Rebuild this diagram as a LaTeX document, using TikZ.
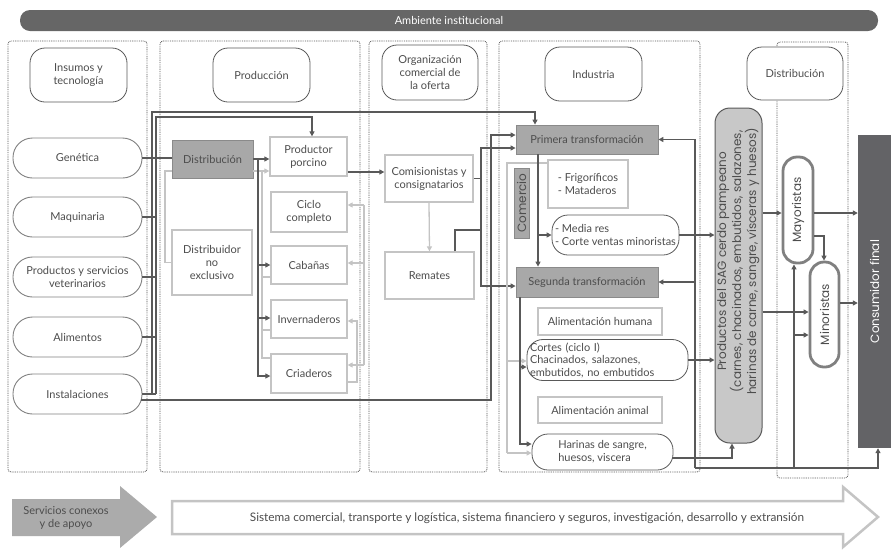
\documentclass[tikz,border=0pt]{standalone}
\usepackage{fontspec}
\setmainfont{Lato}
\newfontfamily\widefont{Poppins}
\usetikzlibrary{arrows.meta,calc}
\definecolor{txtgray}{HTML}{4D4D4D}
\definecolor{linedark}{HTML}{595959}
\definecolor{linelight}{HTML}{C4C4C4}
\definecolor{pillgray}{HTML}{808080}
\definecolor{boxgray}{HTML}{A8A8A8}
\definecolor{boxedge}{HTML}{8A8A8A}
\definecolor{saggray}{HTML}{C8C8C8}
\definecolor{consgray}{HTML}{636366}
\definecolor{bannergray}{HTML}{666666}
\definecolor{svcgray}{HTML}{ABABAB}
\tikzset{
	column/.style={draw=linedark, line width=0.8pt, dash pattern=on 0.9pt off 0.9pt, rounded corners=3pt},
	header/.style={draw=linedark, line width=0.8pt, fill=white, rounded corners=15pt, minimum width=97pt, minimum height=54pt, align=center},
	insumo/.style={draw=pillgray, line width=0.9pt, fill=white, rounded corners=19.5pt, minimum width=129pt, minimum height=40pt, align=center},
	graybox/.style={draw=boxedge, fill=boxgray, line width=0.8pt, align=center},
	lightbox/.style={draw=linelight, fill=white, line width=1.3pt, align=center},
	pill/.style={draw=linedark, line width=0.8pt, fill=white, rounded corners=16pt, align=left},
	thickpill/.style={draw=pillgray, line width=2.8pt, fill=white, rounded corners=14pt},
	widetext/.style={font=\widefont\fontsize{12}{12.5}\selectfont},
	dkline/.style={draw=linedark, line width=1.3pt},
	dkarrow/.style={dkline, -{Triangle[length=5pt,width=5pt]}},
	ltline/.style={draw=linelight, line width=1.3pt},
	ltarrow/.style={ltline, -{Triangle[length=5pt,width=5pt]}}
}
\begin{document}
\begin{tikzpicture}[x=1pt, y=-1pt, font=\fontsize{11}{13}\selectfont, text=txtgray, inner sep=2pt]
	\useasboundingbox (0,0) rectangle (891,550);
	\fill[bannergray, rounded corners=10pt] (20,10) rectangle (878,31);
	\node[text=white] (amb) at (449,20.5) {Ambiente institucional};

	\draw[column] (8,41) rectangle (147,472);
	\draw[column] (160,41) rectangle (360,472);
	\draw[column] (369,41) rectangle (487,472);
	\draw[column] (499,41) rectangle (700,472);
	\draw[column] (777,42) rectangle (848,478);

	\node[header] (hins) at (78.5,75) {Insumos y\\tecnología};
	\node[header] (hprod) at (261.5,75) {Producción};
	\node[header, minimum width=96pt, minimum height=55pt] (horg) at (430,72.5) {Organización\\comercial de\\la oferta};
	\node[header] (hind) at (593.5,74) {Industria};
	\node[header, minimum width=96pt, minimum height=53pt] (hdis) at (795,73.5) {Distribución};

	\node[insumo] (gen) at (77.5,158) {Genética};
	\node[insumo] (maq) at (77.5,217) {Maquinaria};
	\node[insumo] (vet) at (77.5,277) {Productos y servicios\\veterinarios};
	\node[insumo] (ali) at (77.5,337) {Alimentos};
	\node[insumo] (ins) at (77.5,394) {Instalaciones};

	\node[graybox, minimum width=81pt, minimum height=38pt] (distr) at (212.5,159) {Distribución};
	\node[lightbox, minimum width=80pt, minimum height=65pt] (dne) at (212,262.5) {Distribuidor\\no\\exclusivo};
	\node[lightbox, minimum width=77pt, minimum height=39pt] (pp) at (308.5,156.5) {Productor\\porcino};
	\node[lightbox, minimum width=76pt, minimum height=40pt] (cc) at (309,212) {Ciclo\\completo};
	\node[lightbox, minimum width=76pt, minimum height=38pt] (cab) at (309,265) {Cabañas};
	\node[lightbox, minimum width=76pt, minimum height=38pt, inner sep=1pt] (inv) at (309,319) {Invernaderos};
	\node[lightbox, minimum width=76pt, minimum height=39pt] (cri) at (309,373.5) {Criaderos};

	\node[lightbox, minimum width=88pt, minimum height=47pt, inner sep=1pt] (com) at (429,178.5) {Comisionistas y\\consignatarios};
	\node[lightbox, minimum width=89pt, minimum height=47pt] (rem) at (429.5,275.5) {Remates};

	\node[graybox, minimum width=142pt, minimum height=29pt] (pri) at (587,139.5) {Primera transformación};
	\node[graybox, minimum width=142pt, minimum height=30pt] (seg) at (587,282) {Segunda transformación};
	\node[graybox, widetext, minimum width=15pt, minimum height=70pt, inner sep=0pt] (comr) at (521.5,203) {\rotatebox{90}{Comercio}};
	\node[lightbox, minimum width=80pt, minimum height=48pt, align=left] (fri) at (588,184) {- Frigoríficos\\- Mataderos};
	\node[pill, minimum width=127pt, minimum height=40pt, inner sep=1pt] (mr) at (615.5,235) {- Media res\\- Corte ventas minoristas};
	\node[lightbox, minimum width=124pt, minimum height=27pt] (ah) at (600,321.5) {Alimentación humana};
	\node[pill, minimum width=161pt, minimum height=40pt, text width=155pt, inner sep=3pt, font=\fontsize{11}{12.5}\selectfont] (cor) at (607.5,360) {Cortes (ciclo I)\\Chacinados, salazones,\\embutidos, no embutidos};
	\node[lightbox, minimum width=124pt, minimum height=26pt] (aa) at (600,410) {Alimentación animal};
	\node[pill, minimum width=141pt, minimum height=36pt] (har) at (602.5,452) {Harinas de sangre,\\huesos, viscera};

	\node[draw=linedark, line width=1pt, fill=saggray, rounded corners=15pt, minimum width=47pt, minimum height=335pt, widetext, inner sep=0pt] (sag) at (738.5,275.5) {\rotatebox{90}{\hspace{28pt}\begin{tabular}{@{}c@{}}Productos del SAG cerdo pampeano\\(carnes, chacinados, embutidos, salazones,\\harinas de carne, sangre, vísceras y huesos)\end{tabular}}};
	\node[thickpill, widetext, minimum width=30pt, minimum height=106pt, inner sep=0pt] (may) at (798,210) {\rotatebox{90}{Mayoristas}};
	\node[thickpill, widetext, minimum width=29pt, minimum height=105pt, inner sep=0pt] (min) at (824.5,314.5) {\rotatebox{90}{Minoristas}};
	\node[fill=consgray, text=white, widetext, minimum width=33pt, minimum height=313pt] (cons) at (874.5,291.5) {\rotatebox{90}{Consumidor final}};

	\draw[dkline] (gen.east) -- (gen.east -| distr.west);
	\draw[dkarrow] (152,394) -- (152,112) -- (535,112) -- (pri.north -| 535,0);
	\draw[dkarrow] (156,394) -- (156,117) -- (312,117) -- (pp.north -| 312,0);
	\foreach \n in {maq,vet,ali,ins}
		\draw[dkline] (\n.east) -- (\n.east -| 156,0);
	\draw[dkarrow] ($(ins.east)+(-1,6)$) -- (491,400) -- (491,135) -- (pri.west |- 0,135);

	\draw[ltline] (dne.west) -- (165,262.5) -- (165,171) -- (distr.west |- 0,171);
	\draw[ltarrow] (distr.east |- 0,171) -- (pp.west |- 0,171);
	\draw[ltline] (262,171) -- (262,358) -- (cri.west |- 0,358);
	\draw[ltline] (262,277) -- (cab.west |- 0,277);
	\draw[ltline] (262,330) -- (inv.west |- 0,330);
	\draw[dkarrow] (distr.east) -- (distr.east -| pp.west);
	\draw[dkarrow] (258,159) |- (cri.west |- 0,376);
	\draw[dkarrow] (258,265) -- (cab.west);
	\draw[dkarrow] (258,318) -- (inv.west |- 0,318);

	\draw[ltline] (364,205) -- (364,365);
	\draw[ltarrow] (364,205) -- (cc.east |- 0,205);
	\draw[ltarrow] (364,263) -- (cab.east |- 0,263);
	\draw[ltarrow] (364,365) -- (cri.east |- 0,365);
	\draw[ltarrow] (cri.east |- 0,382) -- (357,382) -- (357,321) -- (inv.east |- 0,321);

	\draw[dkarrow] (pp.east |- 0,172) -- (com.west |- 0,172);
	\draw[ltarrow] (com.south) -- (rem.north);
	\draw[dkline] (com.east) -- (481,178.5);
	\draw[dkline] (455,0 |- rem.north) |- (481,230);
	\draw[dkarrow] (481,178.5) |- (pri.west |- 0,148);
	\draw[dkarrow] (481,178.5) |- (seg.west |- 0,286);

	\draw[ltline] (fri.west |- 0,163) -- (507,163) -- (507,453);
	\draw[ltarrow] (507,453) -- (har.west |- 0,453);
	\draw[ltarrow] (507,361) -- (cor.west |- 0,361);
	\draw[dkarrow] (538,0 |- pri.south) -- (538,0 |- seg.north);
	\draw[dkarrow] (538,235) -- (mr.west);
	\draw[dkarrow] (520,0 |- seg.south) -- (520,444) -- (har.west |- 0,444);
	\draw[dkarrow] (520,367) -- (cor.west |- 0,367);

	\draw[dkarrow] (mr.east) -- (mr.east -| sag.west);
	\draw[dkarrow] (cor.east) -- (cor.east -| sag.west);
	\draw[dkarrow] ($(har.east)+(-1,6)$) -- (732,458) -- (sag.south -| 732,0);
	\draw[dkarrow] (695,468) -- (695,139.5) -- (pri.east);
	\draw[dkarrow] (695,282) -- (seg.east);
	\draw[dkarrow] (695,468) -- (878,468) -- (cons.south -| 878,0);
	\draw[dkarrow] (794,468) -- (may.south -| 794,0);
	\draw[dkarrow] (794,335) -- (min.west |- 0,335);

	\draw[dkarrow] (sag.east |- 0,213) -- (may.west |- 0,213);
	\draw[dkarrow] (sag.east |- 0,312) -- (min.west |- 0,312);
	\draw[dkarrow] (may.east |- 0,236) -- (824,236) -- (min.north -| 824,0);
	\draw[dkarrow] (may.east |- 0,213) -- (cons.west |- 0,213);
	\draw[dkarrow] (min.east |- 0,303) -- (cons.west |- 0,303);

	\fill[svcgray] (12,499) -- (120,499) -- (120,486) -- (157,517) -- (120,548) -- (120,536) -- (12,536) -- cycle;
	\node[align=center] (svc) at (66,517.5) {Servicios conexos\\y de apoyo};
	\draw[linelight, line width=2.5pt, miter limit=20] (172,501) -- (843,501) -- (843,487) -- (878,517) -- (843,547) -- (843,534) -- (172,534) -- cycle;
	\node[font=\fontsize{11.8}{14}\selectfont] (sist) at (527,518) {Sistema comercial, transporte y logística, sistema financiero y seguros, investigación, desarrollo y extransión};
\end{tikzpicture}
\end{document}
